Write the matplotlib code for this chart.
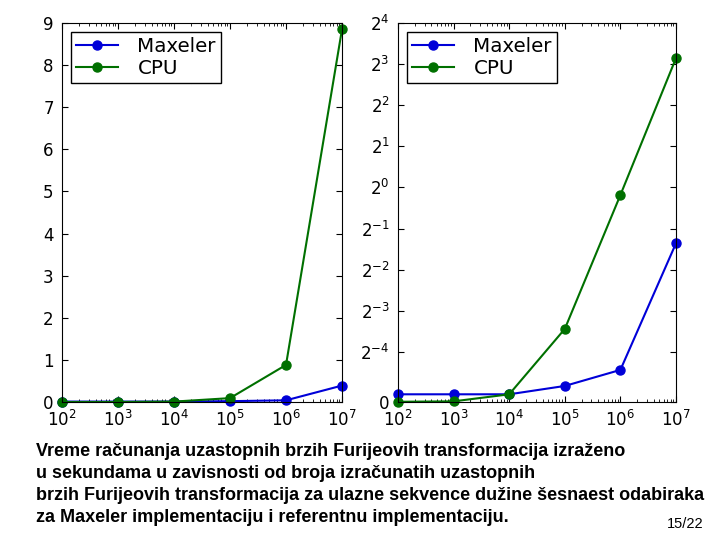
import numpy as np
import matplotlib.pyplot as plt
from matplotlib.ticker import FixedLocator, FixedFormatter, LogLocator

# Number of transforms (x) and time in seconds (y)
n_transforms = [1e2, 1e3, 1e4, 1e5, 1e6, 1e7]
maxeler_time = [0.0096, 0.0096, 0.0096, 0.02, 0.04, 0.39]
cpu_time = [0.0003, 0.0008, 0.0096, 0.092, 0.88, 8.85]

log2_exponents = [-4, -3, -2, -1, 0, 1, 2, 3, 4]

caption_lines = [
    "Vreme računanja uzastopnih brzih Furijeovih transformacija izraženo",
    "u sekundama u zavisnosti od broja izračunatih uzastopnih",
    "brzih Furijeovih transformacija za ulazne sekvence dužine šesnaest odabiraka",
    "za Maxeler implementaciju i referentnu implementaciju.",
]
page_label = "15/22"

plt.rcParams['font.family'] = ['DejaVu Sans']
plt.rcParams['xtick.direction'] = 'in'
plt.rcParams['ytick.direction'] = 'in'
plt.rcParams['xtick.top'] = True
plt.rcParams['ytick.right'] = True
plt.rcParams['xtick.major.size'] = 4
plt.rcParams['ytick.major.size'] = 4
plt.rcParams['xtick.minor.size'] = 2
plt.rcParams['xtick.major.pad'] = 6
plt.rcParams['ytick.major.pad'] = 6

fig = plt.figure(figsize=(7.2, 5.4), dpi=100)
ax1 = fig.add_axes([62 / 720, 1 - 402 / 540, 280 / 720, 379 / 540])
ax2 = fig.add_axes([398 / 720, 1 - 402 / 540, 278 / 720, 379 / 540])


def draw(ax):
    ax.plot(n_transforms, maxeler_time, color='#0000d8', marker='o', markersize=6.5,
            linewidth=1.5, markeredgecolor='#0000d8', label='Maxeler', clip_on=False)
    ax.plot(n_transforms, cpu_time, color='#007000', marker='o', markersize=6.5,
            linewidth=1.5, markeredgecolor='#007000', label='CPU', clip_on=False)
    ax.set_xscale('log')
    ax.set_xlim(1e2, 1e7)
    ax.xaxis.set_major_locator(FixedLocator(n_transforms))
    ax.xaxis.set_minor_locator(LogLocator(base=10, subs=np.arange(2, 10), numticks=50))
    ax.tick_params(labelsize=12)
    leg = ax.legend(loc='upper left', fontsize=14.3, fancybox=False, framealpha=1,
                    borderpad=0.25, handlelength=2.1, handletextpad=1.0,
                    borderaxespad=0.45, labelspacing=0.15)
    leg.get_frame().set_edgecolor('black')
    leg.get_frame().set_linewidth(1.0)


draw(ax1)
ax1.set_ylim(0, 9)
ax1.set_yticks(range(10))

draw(ax2)
ax2.set_yscale('symlog', base=2, linthresh=2 ** -4, linscale=0.61)
ax2.set_ylim(0, 2 ** 4)
ticks = [0] + [2.0 ** e for e in log2_exponents]
labels = ['0'] + [r'$2^{%d}$' % e for e in log2_exponents]
ax2.yaxis.set_major_locator(FixedLocator(ticks))
ax2.yaxis.set_major_formatter(FixedFormatter(labels))
ax2.yaxis.set_minor_locator(FixedLocator([]))

caption_font = ['Liberation Sans Narrow', 'Liberation Sans', 'DejaVu Sans']
for i, line in enumerate(caption_lines):
    fig.text(36 / 720, 1 - (451 + 22.3 * i) / 540, line, fontsize=13, fontweight='bold',
             family=caption_font, va='center', ha='left')
fig.text(703 / 720, 1 - 524 / 540, page_label, fontsize=10.5,
         family=caption_font, va='center', ha='right')

fig.savefig('out.png', dpi=100, facecolor='white')
